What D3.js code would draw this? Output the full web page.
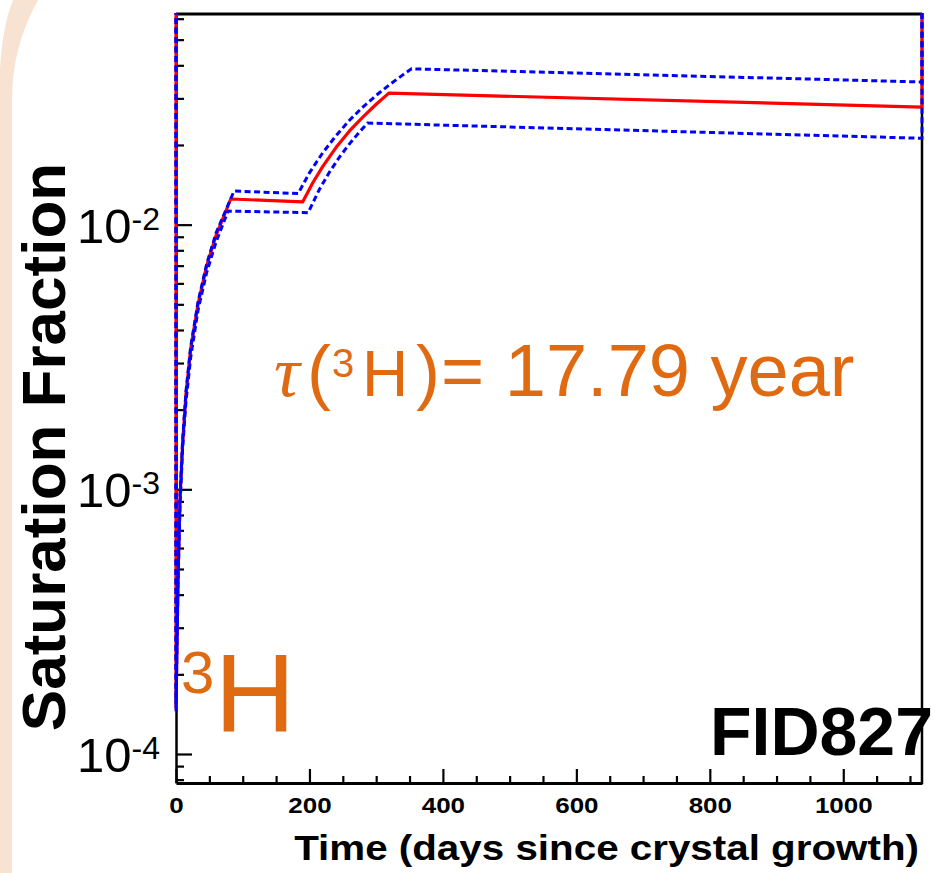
<!DOCTYPE html>
<html>
<head>
<meta charset="utf-8">
<script src="https://cdn.jsdelivr.net/npm/d3@7"></script>
<style>
  body { margin: 0; background: #fff; }
  svg { display: block; }
</style>
</head>
<body>
<svg id="chart" width="938" height="873"></svg>
<script>
// Central saturation-fraction curve (days since crystal growth -> fraction)
const centralDays = [0, 3, 6, 10, 15, 22, 33, 46, 60, 82, 190, 205, 220, 240, 260, 280, 300, 319, 1118];
const centralFrac = [1.5e-4, 4.6e-4, 9.2e-4, 1.5e-3, 2.3e-3, 3.4e-3, 5.0e-3, 7.0e-3, 9.1e-3, 1.25e-2,
                     1.22e-2, 1.44e-2, 1.66e-2, 1.96e-2, 2.26e-2, 2.55e-2, 2.85e-2, 3.14e-2, 2.78e-2];

// Upper uncertainty band
const upperDays = [0, 3, 6, 10, 15, 22, 33, 46, 60, 87, 183, 200, 220, 240, 260, 280, 300, 320, 340, 353, 1118];
const upperFrac = [1.55e-4, 4.7e-4, 9.4e-4, 1.55e-3, 2.35e-3, 3.45e-3, 5.1e-3, 7.1e-3, 9.3e-3, 1.34e-2,
                   1.31e-2, 1.57e-2, 1.87e-2, 2.17e-2, 2.48e-2, 2.78e-2, 3.08e-2, 3.38e-2, 3.68e-2, 3.88e-2, 3.46e-2];

// Lower uncertainty band
const lowerDays = [0, 3, 6, 10, 15, 22, 33, 46, 60, 78, 198, 215, 230, 245, 260, 275, 287, 1118];
const lowerFrac = [1.45e-4, 4.3e-4, 8.6e-4, 1.44e-3, 2.15e-3, 3.15e-3, 4.75e-3, 6.6e-3, 8.6e-3, 1.125e-2,
                   1.11e-2, 1.36e-2, 1.58e-2, 1.80e-2, 2.02e-2, 2.24e-2, 2.42e-2, 2.12e-2];

const xTickValues = [0, 200, 400, 600, 800, 1000];
const xTickLabels = ["0", "200", "400", "600", "800", "1000"];
const yDecadeValues = [1e-4, 1e-3, 1e-2];
const yDecadeExponents = ["-4", "-3", "-2"];

const xDomain = [0, 1118];
const yDomain = [7.77e-5, 0.0625];

const xTitle = "Time (days since crystal growth)";
const yTitle = "Saturation Fraction";
const detectorName = "FID827";
const isotopeMass = "3";
const isotopeSymbol = "H";
const lifetimeValue = "17.79 year";

const orange = "#e06a12";
const sans = "'Liberation Sans', Arial, Helvetica, sans-serif";

const svg = d3.select("#chart");

// Slide border band on the left
svg.append("path")
  .attr("d", "M0,873 L0,70 Q2,28 13,0 L38,0 A205,205 0 0 0 12,100 L12,873 Z")
  .attr("fill", "#f8e2d1");

const x = d3.scaleLinear().domain(xDomain).range([176, 922]);
const y = d3.scaleLog().domain(yDomain).range([783, 14]);

// Frame
const frame = svg.append("g");
frame.append("line").attr("x1", 176).attr("x2", 922).attr("y1", 14).attr("y2", 14)
  .attr("stroke", "#000").attr("stroke-width", 3);
frame.append("line").attr("x1", 922).attr("x2", 922).attr("y1", 14).attr("y2", 784)
  .attr("stroke", "#000").attr("stroke-width", 2.5);

// X axis: minor + major ticks pointing inward
const xMinor = d3.range(0, xDomain[1], 50).filter(v => v % 200 !== 0);
svg.append("g").attr("transform", "translate(0,783)")
  .call(d3.axisBottom(x).tickValues(xMinor).tickSize(-7).tickFormat(""))
  .call(g => g.select(".domain").remove())
  .call(g => g.selectAll("line").attr("stroke-width", 2.2));

const xAxis = svg.append("g").attr("transform", "translate(0,783)")
  .call(d3.axisBottom(x).tickValues(xTickValues).tickSize(-14)
    .tickFormat((d, i) => xTickLabels[i]).tickSizeOuter(0))
  .call(g => g.select(".domain").attr("stroke-width", 3))
  .call(g => g.selectAll("line").attr("stroke-width", 2.2));
// labels are drawn slightly wide, centred under each tick
xAxis.selectAll(".tick text")
  .attr("y", 30).attr("dy", 0).attr("x", 0)
  .attr("transform", "scale(1.18,1)")
  .attr("font-family", sans).attr("font-weight", "bold")
  .attr("font-size", 22).attr("fill", "#000");

// Y axis: log ticks pointing inward
const yMinor = [];
[1e-5, 1e-4, 1e-3, 1e-2].forEach(dec => {
  for (let k = 2; k <= 9; k++) {
    const v = k * dec;
    if (v >= yDomain[0] && v <= yDomain[1]) yMinor.push(v);
  }
});
svg.append("g").attr("transform", "translate(176,0)")
  .call(d3.axisLeft(y).tickValues(yMinor).tickSize(-8).tickFormat(""))
  .call(g => g.select(".domain").remove())
  .call(g => g.selectAll("line").attr("stroke-width", 2.2));
svg.append("g").attr("transform", "translate(176,0)")
  .call(d3.axisLeft(y).tickValues(yDecadeValues).tickSize(-16).tickFormat("").tickSizeOuter(0))
  .call(g => g.select(".domain").attr("stroke-width", 2.5))
  .call(g => g.selectAll("line").attr("stroke-width", 2.2));

// Decade labels 10^n
const yLab = svg.append("g");
yDecadeValues.forEach((v, i) => {
  const t = yLab.append("text")
    .attr("x", 160).attr("y", y(v) + 18)
    .attr("text-anchor", "end")
    .attr("font-family", sans).attr("font-size", 49).attr("fill", "#000");
  t.append("tspan").text("10");
  t.append("tspan").attr("font-size", 32).attr("dy", -13).text(yDecadeExponents[i]);
});

// Curves (clipped to the frame)
svg.append("clipPath").attr("id", "plotClip")
  .append("rect").attr("x", 174).attr("y", 13).attr("width", 750).attr("height", 772);

const line = d3.line().x(d => x(d[0])).y(d => y(d[1]));
const capTop = yDomain[1] * 1.05;
function series(days, frac) {
  const pts = days.map((d, i) => [d, frac[i]]);
  return [[days[0], capTop], ...pts, [xDomain[1], frac[frac.length - 1]], [xDomain[1], capTop]];
}

const curves = svg.append("g").attr("clip-path", "url(#plotClip)");
curves.append("path").datum(series(centralDays, centralFrac))
  .attr("d", line).attr("fill", "none").attr("stroke", "#ff0000").attr("stroke-width", 3.2)
  .attr("stroke-linejoin", "round");
[[upperDays, upperFrac], [lowerDays, lowerFrac]].forEach(([d, f]) => {
  curves.append("path").datum(series(d, f))
    .attr("d", line).attr("fill", "none").attr("stroke", "#0000ff").attr("stroke-width", 3)
    .attr("stroke-dasharray", "6,3.5");
});

// Axis titles
svg.append("text")
  .attr("transform", "translate(65,447) rotate(-90)")
  .attr("text-anchor", "middle")
  .attr("font-family", sans).attr("font-weight", "bold").attr("font-size", 62)
  .attr("fill", "#000").text(yTitle);

svg.append("text")
  .attr("transform", "translate(919,860) scale(1.17,1)")
  .attr("text-anchor", "end")
  .attr("font-family", sans).attr("font-weight", "bold").attr("font-size", 34.5)
  .attr("fill", "#000").text(xTitle);

// Detector name
svg.append("text")
  .attr("x", 933).attr("y", 755).attr("text-anchor", "end")
  .attr("font-family", sans).attr("font-weight", "bold").attr("font-size", 68)
  .attr("fill", "#000").text(detectorName);

// Isotope tag
const iso = svg.append("text")
  .attr("x", 181).attr("y", 732)
  .attr("font-family", sans).attr("fill", orange);
iso.append("tspan").attr("font-size", 60).attr("dy", -39).text(isotopeMass);
iso.append("tspan").attr("font-size", 112).attr("dy", 39).text(isotopeSymbol);

// Lifetime annotation
const tau = svg.append("text").attr("y", 396).attr("fill", orange).attr("font-family", sans);
tau.append("tspan").attr("x", 274).attr("font-family", "'Liberation Serif', 'DejaVu Serif', serif")
  .attr("font-style", "italic").attr("font-size", 72).text("\u03C4");
tau.append("tspan").attr("x", 307).attr("font-size", 72).text("(");
tau.append("tspan").attr("x", 332).attr("font-size", 40).attr("dy", -19).text(isotopeMass);
tau.append("tspan").attr("x", 362).attr("font-size", 64).attr("dy", 19).text(isotopeSymbol);
tau.append("tspan").attr("x", 416).attr("font-size", 72).text(")");
tau.append("tspan").attr("x", 441).attr("font-size", 74).text("= " + lifetimeValue);
</script>
</body>
</html>
